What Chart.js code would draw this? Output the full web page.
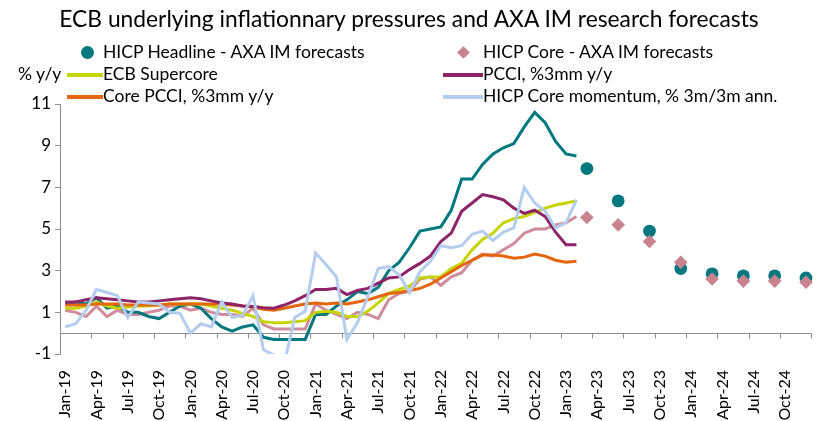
<!DOCTYPE html>
<html>
<head>
<meta charset="utf-8">
<script src="https://cdn.jsdelivr.net/npm/chart.js@4.4.1/dist/chart.umd.min.js"></script>
<style>
    body { margin: 0; background: #fff; font-family: Lato, "Open Sans", sans-serif; }
    #wrap { position: relative; width: 818px; height: 421px; }
    #title { position: absolute; left: 0; top: 4px; width: 818px; text-align: center; font-size: 22.8px; color: #000; }
    .lg { position: absolute; font-size: 17.5px; color: #000; white-space: nowrap; line-height: 20px; }
    .mk { position: absolute; }
    .dot { width: 13px; height: 13px; border-radius: 50%; }
    .dia { width: 9px; height: 9px; transform: rotate(45deg); }
    .ln { height: 4px; }
</style>
</head>
<body>
<div id="wrap">
    <canvas id="chart" width="818" height="421"></canvas>
    <div id="title">ECB underlying inflationnary pressures and AXA IM research forecasts</div>

    <div class="mk dot" style="left:81px;top:46px;background:#00787f"></div>
    <div class="lg" style="left:103px;top:42px">HICP Headline - AXA IM forecasts</div>
    <div class="mk dia" style="left:459px;top:48px;background:#c8838f"></div>
    <div class="lg" style="left:483px;top:42px">HICP Core - AXA IM forecasts</div>

    <div class="lg" style="left:18px;top:64px">% y/y</div>
    <div class="mk ln" style="left:67px;top:73px;width:36px;background:#c6d400"></div>
    <div class="lg" style="left:103px;top:64px">ECB Supercore</div>
    <div class="mk ln" style="left:443px;top:73px;width:40px;background:#8e2468"></div>
    <div class="lg" style="left:483px;top:64px">PCCI, %3mm y/y</div>

    <div class="mk ln" style="left:67px;top:95px;width:36px;background:#e4650a"></div>
    <div class="lg" style="left:103px;top:86px">Core PCCI, %3mm y/y</div>
    <div class="mk ln" style="left:443px;top:95px;width:40px;background:#b4cdee"></div>
    <div class="lg" style="left:483px;top:86px">HICP Core momentum, % 3m/3m ann.</div>
</div>
<script>
const years = ['19', '20', '21', '22', '23', '24'];
const monthNames = ['Jan', 'Feb', 'Mar', 'Apr', 'May', 'Jun', 'Jul', 'Aug', 'Sep', 'Oct', 'Nov', 'Dec'];
const months = years.flatMap(y => monthNames.map(m => m + '-' + y));
const yTicks = [-1, 1, 3, 5, 7, 9, 11];

// actuals, Jan-19 to Feb-23
const hicpHeadline = [
    1.4, 1.5, 1.4, 1.7, 1.2, 1.3, 1.0, 1.0, 0.8, 0.7, 1.0, 1.3,
    1.4, 1.2, 0.7, 0.3, 0.1, 0.3, 0.4, -0.2, -0.3, -0.3, -0.3, -0.3,
    0.9, 0.9, 1.3, 1.6, 2.0, 1.9, 2.2, 3.0, 3.4, 4.1, 4.9, 5.0,
    5.1, 5.9, 7.4, 7.4, 8.1, 8.6, 8.9, 9.1, 9.9, 10.6, 10.1, 9.2,
    8.6, 8.5
];
const hicpCore = [
    1.1, 1.0, 0.8, 1.3, 0.8, 1.1, 0.9, 0.9, 1.0, 1.1, 1.3, 1.3,
    1.1, 1.2, 1.0, 0.9, 0.9, 0.8, 1.2, 0.4, 0.2, 0.2, 0.2, 0.2,
    1.4, 1.1, 0.9, 0.7, 1.0, 0.9, 0.7, 1.6, 1.9, 2.0, 2.6, 2.7,
    2.3, 2.7, 2.9, 3.5, 3.8, 3.7, 4.0, 4.3, 4.8, 5.0, 5.0, 5.2,
    5.3, 5.6
];
const supercore = [
    1.2, 1.2, 1.3, 1.5, 1.3, 1.2, 1.25, 1.3, 1.3, 1.35, 1.4, 1.4,
    1.4, 1.4, 1.3, 1.2, 1.1, 0.95, 0.8, 0.55, 0.5, 0.5, 0.55, 0.6,
    1.0, 1.05, 1.0, 0.8, 0.8, 1.05, 1.45, 1.9, 2.1, 2.25, 2.65, 2.7,
    2.7, 3.1, 3.35, 4.0, 4.5, 4.8, 5.3, 5.5, 5.6, 5.8, 6.0, 6.15,
    6.25, 6.35
];
const pcci = [
    1.5, 1.5, 1.6, 1.7, 1.65, 1.6, 1.55, 1.5, 1.5, 1.55, 1.6, 1.65,
    1.7, 1.65, 1.55, 1.45, 1.4, 1.3, 1.28, 1.22, 1.2, 1.35, 1.55, 1.8,
    2.1, 2.1, 2.15, 1.85, 2.05, 2.15, 2.4, 2.65, 2.7, 3.05, 3.35, 3.7,
    4.4, 4.8, 5.85, 6.25, 6.65, 6.55, 6.4, 6.0, 5.75, 5.9, 5.6, 4.85,
    4.25, 4.25
];
const corePcci = [
    1.35, 1.35, 1.35, 1.4, 1.4, 1.4, 1.35, 1.35, 1.35, 1.35, 1.4, 1.4,
    1.4, 1.4, 1.4, 1.4, 1.35, 1.3, 1.25, 1.15, 1.1, 1.2, 1.3, 1.4,
    1.45, 1.4, 1.45, 1.4, 1.5, 1.6, 1.75, 1.9, 1.95, 2.05, 2.15, 2.35,
    2.65, 2.95, 3.25, 3.5, 3.75, 3.75, 3.7, 3.6, 3.65, 3.8, 3.7, 3.5,
    3.4, 3.45
];
const coreMomentum = [
    0.3, 0.45, 1.1, 2.1, 1.95, 1.8, 0.75, 1.5, 1.45, 1.4, 1.0, 0.95,
    0.0, 0.45, 0.3, 1.5, 0.75, 0.85, 1.8, -0.8, -1.05, -1.45, 0.75, 1.05,
    3.85, 3.3, 2.7, -0.3, 0.5, 1.75, 3.1, 3.2, 2.8, 1.95, 2.95, 3.45,
    4.2, 4.1, 4.2, 4.75, 4.9, 4.45, 4.85, 5.05, 7.0, 6.25, 5.85, 5.05,
    5.3, 6.4
];

// AXA IM forecasts
const forecastMonths = ['Mar-23', 'Jun-23', 'Sep-23', 'Dec-23', 'Mar-24', 'Jun-24', 'Sep-24', 'Dec-24'];
const headlineForecast = [7.9, 6.35, 4.9, 3.1, 2.85, 2.75, 2.75, 2.65];
const coreForecast = [5.55, 5.2, 4.4, 3.4, 2.6, 2.5, 2.5, 2.45];

const axisColor = '#8c8c8c';

function lineSet(label, data, color, order) {
    return {
        label, data, order,
        borderColor: color,
        backgroundColor: color,
        borderWidth: 3,
        pointRadius: 0,
        tension: 0,
        fill: false
    };
}

function pointSet(label, values, color, style, radius, order) {
    return {
        label, order,
        data: forecastMonths.map((m, i) => ({ x: m, y: values[i] })),
        showLine: false,
        pointStyle: style,
        pointRadius: radius,
        pointBorderWidth: 0,
        backgroundColor: color,
        borderColor: color
    };
}

// x axis sits on the zero line, with a tick every quarter
const zeroAxis = {
    id: 'zeroAxis',
    beforeDatasetsDraw(chart) {
        const { ctx, chartArea, scales } = chart;
        const y0 = Math.round(scales.y.getPixelForValue(0)) + 0.5;
        const step = (chartArea.right - chartArea.left) / months.length;
        ctx.save();
        ctx.strokeStyle = axisColor;
        ctx.lineWidth = 1;
        ctx.beginPath();
        ctx.moveTo(chartArea.left, y0);
        ctx.lineTo(chartArea.right, y0);
        for (let i = 3; i <= months.length; i += 3) {
            const x = Math.round(chartArea.left + i * step) + 0.5;
            ctx.moveTo(x, y0);
            ctx.lineTo(x, y0 + 5);
        }
        ctx.stroke();
        ctx.restore();
    }
};

new Chart(document.getElementById('chart'), {
    type: 'line',
    data: {
        labels: months,
        datasets: [
            pointSet('HICP Core - AXA IM forecasts', coreForecast, '#c8838f', 'rectRot', 6.8, 0),
            pointSet('HICP Headline - AXA IM forecasts', headlineForecast, '#00787f', 'circle', 6.4, 1),
            lineSet('HICP Core momentum, % 3m/3m ann.', coreMomentum, '#b4cdee', 2),
            lineSet('PCCI, %3mm y/y', pcci, '#8e2468', 3),
            lineSet('Core PCCI, %3mm y/y', corePcci, '#e4650a', 4),
            lineSet('ECB Supercore', supercore, '#c6d400', 5),
            lineSet('HICP Headline', hicpHeadline, '#00787f', 6),
            lineSet('HICP Core', hicpCore, '#d08c9b', 7)
        ]
    },
    options: {
        responsive: false,
        animation: false,
        devicePixelRatio: 1,
        layout: { padding: { top: 104, right: -3, left: 0, bottom: 0 } },
        plugins: {
            legend: { display: false },
            title: { display: false },
            tooltip: { enabled: false }
        },
        scales: {
            x: {
                type: 'category',
                offset: true,
                grid: { display: false },
                border: { display: false },
                ticks: {
                    autoSkip: false,
                    maxRotation: 90,
                    minRotation: 90,
                    padding: 8,
                    color: '#000',
                    font: { family: 'Lato', size: 16 },
                    callback: (val, idx) => idx % 3 === 0 ? months[idx] : ''
                },
                afterFit: scale => {
                    scale.height = 67;
                    scale.paddingLeft = 0;
                    scale.paddingRight = 0;
                }
            },
            y: {
                min: -1,
                max: 11,
                afterBuildTicks: scale => { scale.ticks = yTicks.map(v => ({ value: v })); },
                grid: { drawOnChartArea: false, tickLength: 5, color: axisColor },
                border: { display: true, color: axisColor },
                ticks: {
                    padding: 4,
                    color: '#000',
                    font: { family: 'Lato', size: 17 }
                },
                afterFit: scale => { scale.width = 60; }
            }
        }
    },
    plugins: [zeroAxis]
});
</script>
</body>
</html>
